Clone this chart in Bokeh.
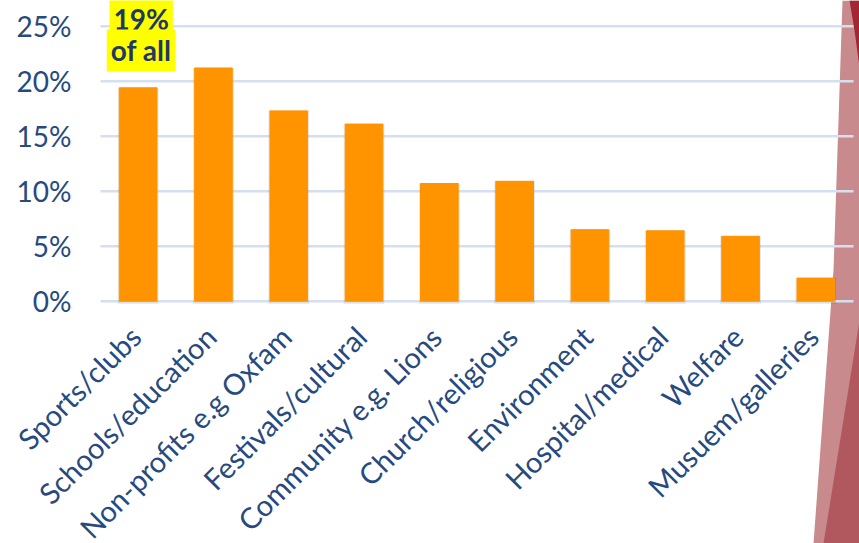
from math import pi
from bokeh.plotting import figure
from bokeh.models import ColumnDataSource, Range1d, PolyAnnotation
from bokeh.core.properties import value
from bokeh.embed import file_html
from bokeh.resources import INLINE

categories = ["Sports/clubs", "Schools/education", "Non-profits e.g Oxfam",
              "Festivals/cultural", "Community e.g. Lions", "Church/religious",
              "Environment", "Hospital/medical", "Welfare", "Musuem/galleries"]
shares = [19.4, 21.2, 17.3, 16.1, 10.7, 10.9, 6.5, 6.4, 5.9, 2.1]
y_ticks = [0, 5, 10, 15, 20, 25]
y_tick_labels = ["0%", "5%", "10%", "15%", "20%", "25%"]
note_lines = ["19%", "of all"]

NAVY = "#264A80"
W, H = 859, 543
# layout of the plotting area in pixels
LEFT, RIGHT, ZERO_Y = 100.0, 853.0, 300.7
PX_PER_CAT = (RIGHT - LEFT) / len(categories)
PX_PER_PCT = 11.0

xpos = list(range(len(categories)))
src = ColumnDataSource(dict(x=xpos, cat=categories, share=shares))

x_start = -0.5 - LEFT / PX_PER_CAT
x_end = x_start + W / PX_PER_CAT
y_end = ZERO_Y / PX_PER_PCT
y_start = y_end - H / PX_PER_PCT

p = figure(x_range=Range1d(x_start, x_end), y_range=Range1d(y_start, y_end),
           width=W, height=H, output_backend="svg", toolbar_location=None,
           min_border=0)
p.min_border_left = p.min_border_right = p.min_border_top = p.min_border_bottom = 0
p.axis.visible = False
p.grid.visible = False
p.outline_line_color = None
p.background_fill_color = "white"
p.border_fill_color = "white"

# slide decoration on the right edge
p.add_layout(PolyAnnotation(xs=[842, 859, 859, 813, 833], ys=[0, 0, 543, 543, 270],
                            xs_units="canvas", ys_units="canvas",
                            fill_color="#C98A8D", fill_alpha=1, line_color=None, level="image"))
p.add_layout(PolyAnnotation(xs=[859, 859, 823], ys=[320, 543, 543],
                            xs_units="canvas", ys_units="canvas",
                            fill_color="#B0585D", fill_alpha=1, line_color=None, level="image"))
p.add_layout(PolyAnnotation(xs=[849, 859, 859, 854], ys=[0, 0, 67, 30],
                            xs_units="canvas", ys_units="canvas",
                            fill_color="#A22733", fill_alpha=1, line_color=None, level="image"))

# horizontal grid lines
p.segment(x0=-0.5, x1=len(categories) - 0.5, y0=y_ticks, y1=y_ticks,
          line_color="#D5E0EF", line_width=2.5)

# bars (with a faint shadow)
p.vbar(x="x", top="share", width=0.53, source=src, color="#000000", alpha=0.06,
       bottom=-0.2)
p.vbar(x="x", top="share", width=0.5, source=src, color="#FF9400")

# y tick labels
p.text(x=[-0.5] * len(y_ticks), y=y_ticks, text=y_tick_labels,
       x_offset=-29, text_align="right", text_baseline="middle",
       text_font=value("Lato"), text_font_size="28px", text_color=NAVY)

# category labels, rotated
p.text(x="x", y=0, text="cat", source=src, angle=pi / 4,
       x_offset=-3, y_offset=30, text_align="right", text_baseline="middle",
       text_font=value("Lato"), text_font_size="29px", text_color=NAVY)

# highlighted note above the first bar
top = shares[0]
p.text(x=[0, 0], y=[top + 6.3, top + 3.4], text=note_lines,
       x_offset=3, text_align="center", text_baseline="alphabetic",
       text_font=value("Lato"), text_font_style="bold", text_font_size="28px",
       text_color="#1F3864", background_fill_color="#FFFF00", padding=4)

open("out.html", "w").write(file_html(p, INLINE))
